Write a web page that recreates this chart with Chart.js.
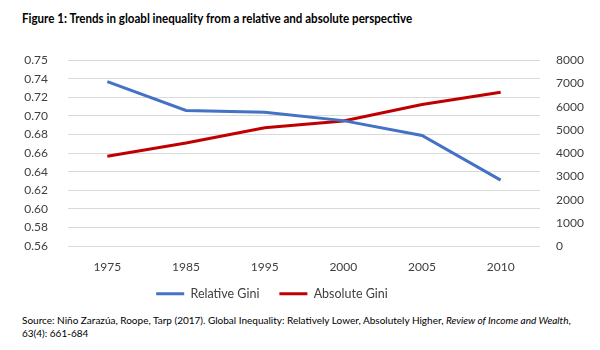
<!DOCTYPE html>
<html>
<head>
<meta charset="utf-8">
<script src="https://cdn.jsdelivr.net/npm/chart.js@4"></script>
<style>
  body { margin: 0; background: #fff; width: 600px; height: 350px; position: relative; overflow: hidden; }
  #title { position: absolute; left: 22px; top: 10px; font: bold 13px "Lato", sans-serif; color: #000; white-space: nowrap; transform-origin: 0 0; }
  #wrap { position: absolute; left: 0; top: 33px; width: 600px; height: 277px; }
  #source { position: absolute; left: 22px; top: 314px; font: 10px "Lato", sans-serif; color: #000; line-height: 13px; white-space: nowrap; }
</style>
</head>
<body>
<div id="title">Figure 1: Trends in gloabl inequality from a relative and absolute perspective</div>
<div id="wrap"><canvas id="chart"></canvas></div>
<div id="source">Source: Niño Zarazúa, Roope, Tarp (2017). Global Inequality: Relatively Lower, Absolutely Higher, <i>Review of Income and Wealth</i>,<br>63(4): 661-684</div>
<script>
// values
const years = ['1975', '1985', '1995', '2000', '2005', '2010'];
const relativeGini = [0.737, 0.706, 0.704, 0.695, 0.679, 0.631];
const absoluteGini = [3870, 4440, 5090, 5380, 6090, 6620];
const leftTicks = ['0.56', '0.58', '0.60', '0.62', '0.64', '0.66', '0.68', '0.70', '0.72', '0.74', '0.75'];

// squeeze the title to the condensed width of the original
const title = document.getElementById('title');
title.style.transform = 'scaleX(' + (390 / title.offsetWidth) + ')';

const tickFont = { family: 'Lato', size: 12 };
const tickColor = '#404040';

// legend sits a bit left of centre; x labels may run into the legend's top padding
const layoutTweak = {
    id: 'layoutTweak',
    afterLayout(chart) {
        chart.legend.left -= 28;
        chart.legend.right -= 28;
        chart.scales.x.bottom += 14;
    }
};

new Chart(document.getElementById('chart'), {
    type: 'line',
    data: {
        labels: years,
        datasets: [
            {
                label: 'Relative Gini',
                data: relativeGini,
                yAxisID: 'y',
                borderColor: '#4472C4',
                backgroundColor: '#4472C4',
                borderWidth: 3,
                pointRadius: 0,
                tension: 0
            },
            {
                label: 'Absolute Gini',
                data: absoluteGini,
                yAxisID: 'y1',
                borderColor: '#C00000',
                backgroundColor: '#C00000',
                borderWidth: 3,
                pointRadius: 0,
                tension: 0
            }
        ]
    },
    options: {
        responsive: true,
        maintainAspectRatio: false,
        animation: false,
        layout: { padding: { top: 4, left: 0, right: 0, bottom: 0 } },
        plugins: {
            legend: {
                position: 'bottom',
                labels: {
                    usePointStyle: true,
                    pointStyle: 'line',
                    pointStyleWidth: 28,
                    padding: 20,
                    color: '#404040',
                    font: { family: 'Lato', size: 12.5 }
                }
            },
            tooltip: { enabled: false }
        },
        scales: {
            x: {
                offset: true,
                grid: { display: false },
                border: { display: false },
                ticks: { font: tickFont, color: tickColor, padding: 6, maxRotation: 0, autoSkip: false },
                afterFit: s => { s.height -= 13; }
            },
            y: {
                position: 'left',
                min: 0.56,
                max: 0.76,
                grid: { color: '#d9d9d9', lineWidth: 1, drawTicks: false },
                border: { display: false },
                ticks: {
                    stepSize: 0.02,
                    autoSkip: false,
                    font: tickFont,
                    color: tickColor,
                    padding: 20,
                    callback: (v, i) => leftTicks[i]
                },
                afterFit: s => { s.width = 68; }
            },
            y1: {
                position: 'right',
                min: 0,
                max: 8000,
                grid: { display: false },
                border: { display: false },
                ticks: {
                    stepSize: 1000,
                    autoSkip: false,
                    font: tickFont,
                    color: tickColor,
                    padding: 8,
                    callback: v => String(v)
                },
                afterFit: s => { s.width = 60; }
            }
        }
    },
    plugins: [layoutTweak]
});
</script>
</body>
</html>
